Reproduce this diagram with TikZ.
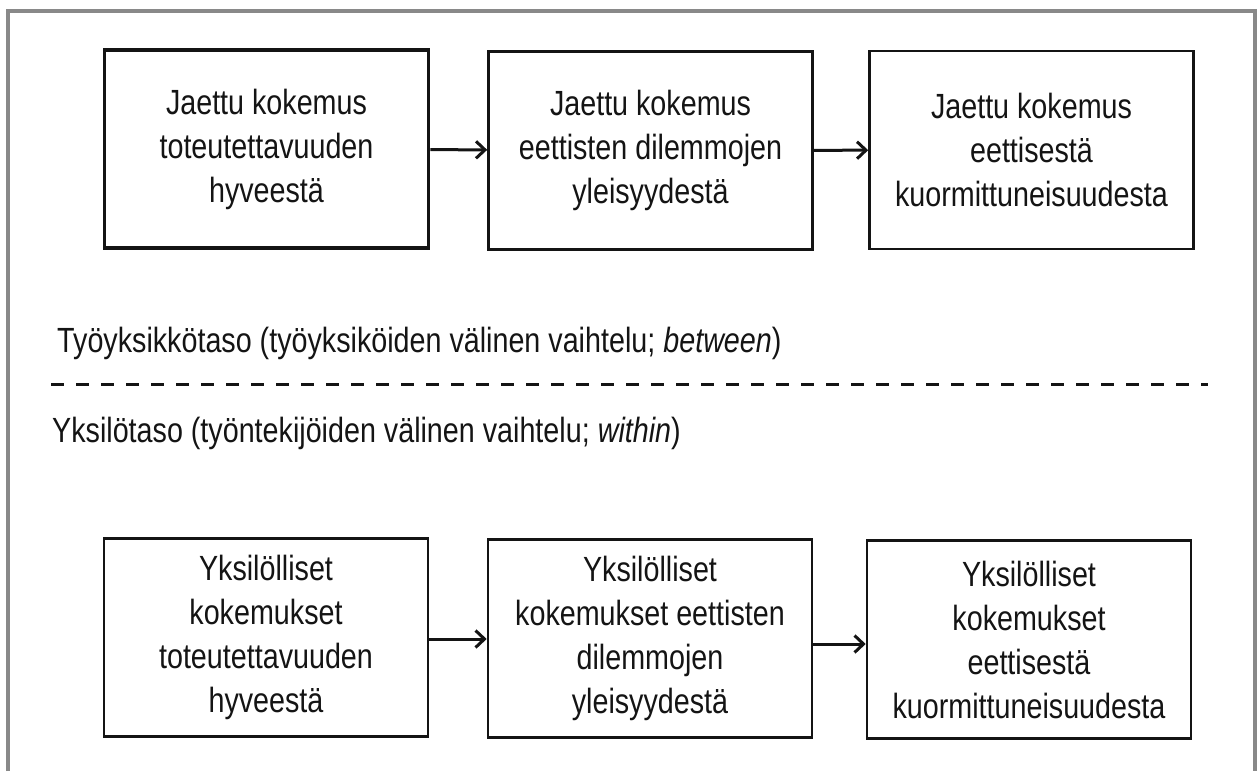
\documentclass[tikz,border=0pt]{standalone}
\usepackage{fontspec}
\setmainfont[FakeStretch=0.82]{Liberation Sans}
\usetikzlibrary{arrows.meta}
\definecolor{framegray}{RGB}{137,137,137}
\definecolor{ink}{RGB}{20,20,20}
\begin{document}
\begin{tikzpicture}[x=1pt,y=-1pt,
  every node/.style={font=\fontsize{35}{44}\selectfont, text=ink},
  stagebox/.style={draw=ink, line width=2.6pt, align=center, inner sep=0pt, minimum width=324pt, minimum height=198pt},
  thickbox/.style={stagebox, line width=3.6pt},
  flow/.style={draw=ink, line width=3pt, -{Straight Barb[length=9pt,width=17pt,line width=3pt]}},
  levellabel/.style={anchor=base west, inner sep=0pt},
  levelline/.style={draw=ink, line width=3pt, dash pattern=on 13pt off 12pt}
]
\useasboundingbox (0,0) rectangle (1258,771);
% open gray frame
\draw[framegray, line width=3.4pt] (8,771) -- (8,11) -- (1255,11) -- (1255,771);

% top row
\node[thickbox] (a1) at (266.5,149) {Jaettu kokemus\\toteutettavuuden\\hyveestä};
\node[stagebox] (a2) at (650.5,150.5) {Jaettu kokemus\\eettisten dilemmojen\\yleisyydestä};
\node[stagebox] (a3) at (1031.5,150) {Jaettu kokemus\\eettisestä\\kuormittuneisuudesta};
\draw[flow] (a1) -- (a2);
\draw[flow] (a2) -- (a3);

% level labels and divider
\node[levellabel] (lab1) at (57,352) {Työyksikkötaso (työyksiköiden välinen vaihtelu; \textit{between})};
\coordinate (dl) at (51,384);
\coordinate (dr) at (1208,384);
\draw[levelline] (dl) -- (dr);
\node[levellabel] (lab2) at (52,442) {Yksilötaso (työntekijöiden välinen vaihtelu; \textit{within})};

% bottom row
\node[stagebox] (b1) at (266,637.5) {Yksilölliset\\kokemukset\\toteutettavuuden\\hyveestä};
\node[stagebox] (b2) at (650,638.5) {Yksilölliset\\kokemukset eettisten\\dilemmojen\\yleisyydestä};
\node[stagebox] (b3) at (1029,639.5) {Yksilölliset\\kokemukset\\eettisestä\\kuormittuneisuudesta};
\draw[flow] (b1.east |- 0,639) -- (b2.west |- 0,639);
\draw[flow] (b2.east |- 0,644) -- (b3.west |- 0,644);
\end{tikzpicture}
\end{document}
